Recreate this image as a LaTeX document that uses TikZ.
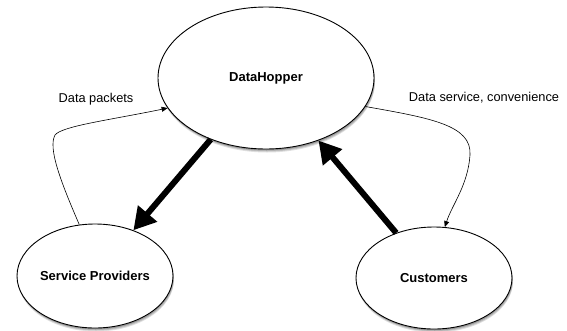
\documentclass[tikz,border=0pt]{standalone}
\usepackage{fontspec}
\setmainfont{Liberation Sans}
\usetikzlibrary{shapes.geometric,arrows.meta,shadows}
\begin{document}
\begin{tikzpicture}[x=1pt,y=-1pt,
  bubble/.style={ellipse,draw=black,line width=0.9pt,fill=white,inner sep=0pt,
    font=\fontsize{13}{15}\selectfont\bfseries,
    general shadow={shadow xshift=1pt,shadow yshift=-3.5pt,fill=black,opacity=0.12},
    general shadow={shadow xshift=1pt,shadow yshift=-2.5pt,fill=black,opacity=0.15},
    general shadow={shadow xshift=0.5pt,shadow yshift=-1.5pt,fill=black,opacity=0.2}},
  lbl/.style={font=\fontsize{12.8}{15}\selectfont,inner sep=0pt},
  thin/.style={line width=0.6pt,-{Triangle[length=6pt,width=5pt]}},
  thick/.style={line width=6pt,-{Triangle[length=22pt,width=24pt]}}]
\useasboundingbox (0,0) rectangle (567,330);
\node[bubble,minimum width=216pt,minimum height=142pt] (dh) at (266,78) {DataHopper};
\node[bubble,minimum width=156pt,minimum height=104pt] (sp) at (95,276) {Service Providers};
\node[bubble,minimum width=156pt,minimum height=102pt] (cu) at (434,278) {Customers};
\node[lbl] (lp) at (96,99) {Data packets};
\node[lbl] (ls) at (484,98) {Data service, convenience};
\draw[thin] (sp.107) .. controls (60,180) and (48,148) .. (55,135)
  .. controls (62,126) and (110,120) .. (dh.197);
\draw[thin] (dh.-16.5) .. controls (430,118) and (472,125) .. (470,155)
  .. controls (468,185) and (452,205) .. (cu.78.7);
\draw[thick] (dh.228) -- (sp.50);
\draw[thick] (cu.130.5) -- (dh.-50.3);
\end{tikzpicture}
\end{document}
